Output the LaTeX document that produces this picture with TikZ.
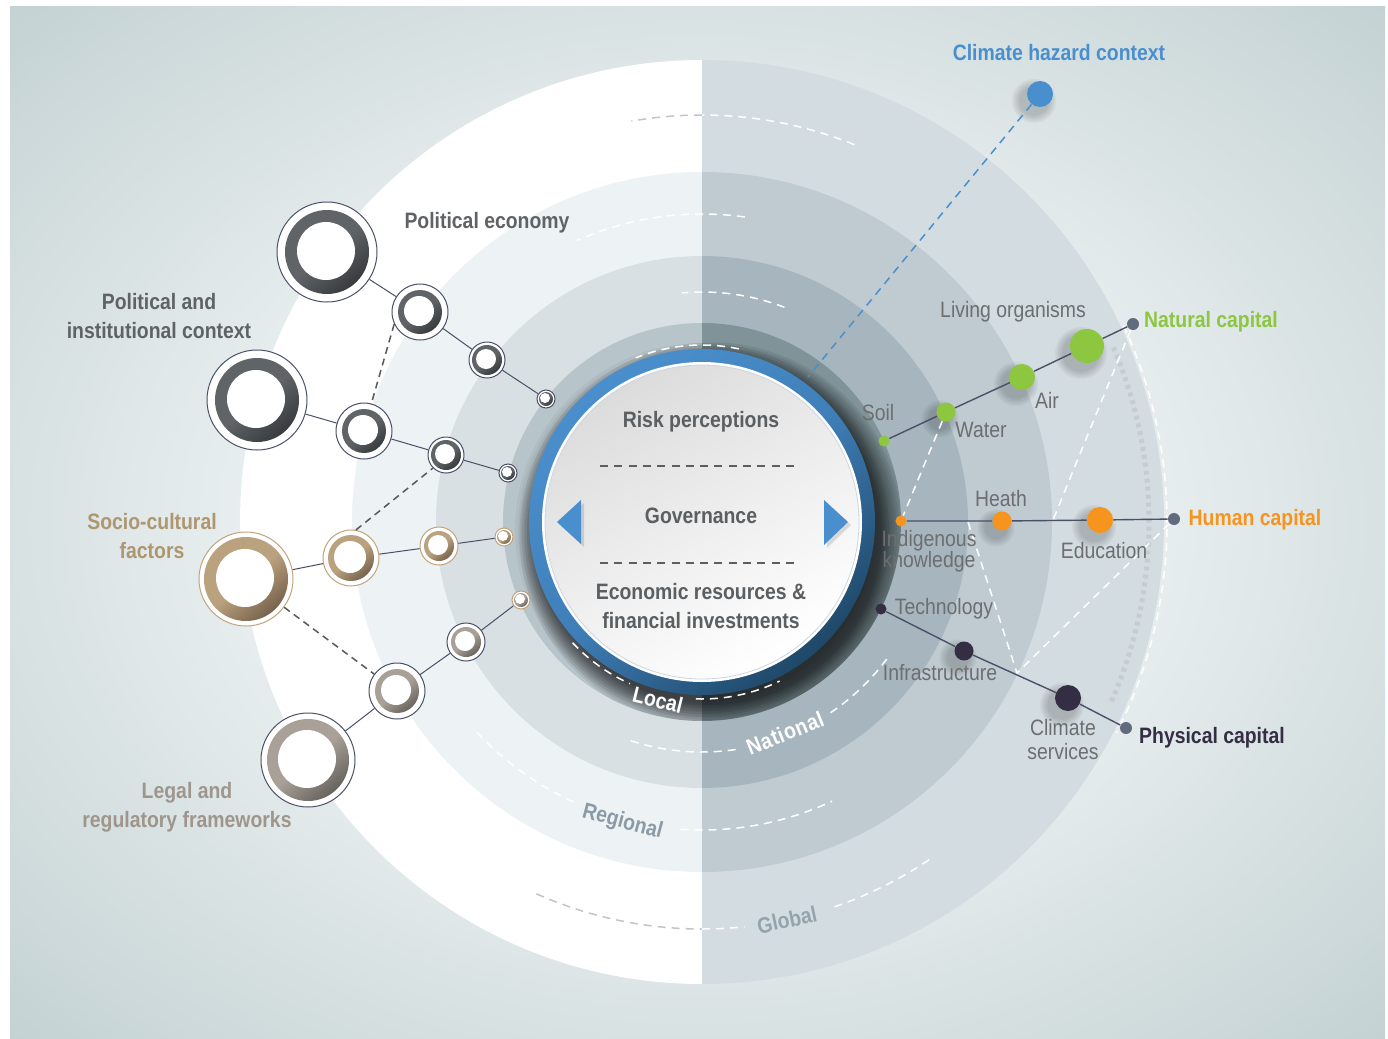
\documentclass[tikz,border=0pt]{standalone}
\usepackage{fontspec}
\setmainfont{Liberation Sans}[FakeStretch=0.87]
\usetikzlibrary{calc}
\definecolor{bgin}{HTML}{F6F9F9}
\definecolor{bgout}{HTML}{C3D1D3}
\definecolor{Lone}{HTML}{B7C4CA}
\definecolor{Ltwo}{HTML}{D8E0E4}
\definecolor{Lthree}{HTML}{EDF2F5}
\definecolor{Rone}{HTML}{7F9399}
\definecolor{Rtwo}{HTML}{A7B6BE}
\definecolor{Rthree}{HTML}{BFCBD1}
\definecolor{Rfour}{HTML}{D3DCE1}
\definecolor{blueA}{HTML}{4A8FCD}
\definecolor{blueB}{HTML}{3F7FB9}
\definecolor{blueC}{HTML}{1F4868}
\definecolor{discT}{HTML}{DCDCDC}
\definecolor{discO}{HTML}{C9D6E3}
\definecolor{txtc}{HTML}{5B5F62}
\definecolor{lblgray}{HTML}{6D6E70}
\definecolor{slate}{HTML}{4A5068}
\definecolor{endgray}{HTML}{626A7D}
\definecolor{natgreen}{HTML}{8DC63F}
\definecolor{humorange}{HTML}{F7941D}
\definecolor{physdark}{HTML}{352D44}
\definecolor{tantext}{HTML}{AD9670}
\definecolor{legaltext}{HTML}{9E968C}
\definecolor{polgray}{HTML}{606366}
\definecolor{grA}{HTML}{606466}
\definecolor{grD}{HTML}{383B3D}
\definecolor{tnA}{HTML}{BBA27F}
\definecolor{tnD}{HTML}{76624C}
\definecolor{tnO}{HTML}{C4A27A}
\definecolor{lgA}{HTML}{A9A197}
\definecolor{lgD}{HTML}{66625D}
\definecolor{regc}{HTML}{8A9BA6}
\definecolor{globc}{HTML}{94A4AD}
\definecolor{gdashc}{HTML}{BFC5C9}
\definecolor{dashdark}{HTML}{55595C}
\pgfdeclareradialshading{bgshade}{\pgfpoint{0bp}{0bp}}{color(0bp)=(bgin); color(9bp)=(bgin); color(36bp)=(bgout); color(50bp)=(bgout)}
\newcommand{\darc}[4]{\draw[#4] ($(C)+(#2:#1)$) arc[start angle=#2, end angle=#3, radius=#1];}
\newcommand{\bubble}[9]{%
  \node[circle, inner sep=0pt, minimum size=#4 pt, draw=#9, line width=0.5pt, fill=white] (#1) at (#2,#3) {};
  \shade[top color=#7, bottom color=#8, middle color=#7, shading angle=40] (#1.center) circle[radius=#5];
  \fill[white] ($(#1.center)+(-1,1)$) circle[radius=#6];
}
\newcommand{\softsh}[3]{\foreach \k in {1,...,5}{\fill[black,opacity=0.04] (#1-6,#2-7) circle[radius=#3+\k*1.8];}}
\begin{document}
\begin{tikzpicture}[x=0.5pt,y=0.5pt,
  base/.style={inner sep=0pt, font=\fontsize{11.15}{14.5}\selectfont},
  one/.style={text height=8pt, text depth=0pt},
  lbl/.style={base, one, text=lblgray},
  bl/.style={inner sep=0pt, font=\fontsize{11.15}{14.5}\selectfont\bfseries},
  ctxt/.style={bl, text=txtc},
  scl/.style={bl, one},
  wdash/.style={draw=white, line width=0.75pt, dash pattern=on 4pt off 3pt},
  gdash/.style={draw=gdashc, line width=0.75pt, dash pattern=on 4pt off 3pt},
  cdash/.style={draw=txtc, line width=0.7pt, dash pattern=on 4pt off 3.15pt},
  ddash/.style={draw=dashdark, line width=0.75pt, dash pattern=on 3.5pt off 2.5pt},
  bdash/.style={draw=blueA, line width=0.75pt, dash pattern=on 4pt off 3pt},
  conn/.style={draw=slate, line width=0.5pt},
  cline/.style={draw=slate, line width=0.7pt},
  cdot/.style={circle, inner sep=0pt, minimum size=#1},
]
\fill[white] (0,0) rectangle (1388,-1039);
\shade[shading=bgshade] (10,-6) rectangle (1385,-1038);
\useasboundingbox (0,0) rectangle (1388,-1039);
\coordinate (C) at (702,-522);
% rings, left half
\begin{scope}
  \clip (0,0) rectangle (702,-1039);
  \fill[white] (C) circle[radius=462];
  \fill[Lthree] (C) circle[radius=350];
  \fill[Ltwo] (C) circle[radius=266];
  \fill[Lone] (C) circle[radius=199];
\end{scope}
% rings, right half
\begin{scope}
  \clip (702,0) rectangle (1388,-1039);
  \fill[Rfour] (C) circle[radius=462];
  \fill[Rthree] (C) circle[radius=350];
  \fill[Rtwo] (C) circle[radius=266];
  \fill[Rone] (C) circle[radius=199];
\end{scope}
% shadow of the central disc
\begin{scope}
  \clip (C) circle[radius=199];
  \foreach \k in {0,...,9} {\fill[black,opacity=0.075] ($(C)+(10,-13)$) circle[radius=170+\k*2.5];}
  \foreach \k in {0,...,5} {\fill[black,opacity=0.04] ($(C)+(0,-8)$) circle[radius=172+\k*3];}
\end{scope}
% scale arcs
\darc{177}{-137}{-114}{wdash}
\darc{177}{-92}{-64}{wdash}
\darc{230}{-108}{-81}{wdash}
\darc{230}{-56}{-36}{wdash}
\darc{230}{69}{95}{wdash}
\darc{308}{-137}{-114}{wdash}
\darc{308}{-94}{-65}{wdash}
\darc{308}{82}{114}{wdash}
\darc{407}{-114}{-90}{gdash}
\darc{407}{-90}{-84}{wdash}
\darc{407}{-71}{-56}{wdash}
\darc{407}{90}{100}{gdash}
\darc{407}{68}{90}{wdash}
% blue ring and disc
\shade[top color=blueA, bottom color=blueC, middle color=blueB, shading angle=40] (C) circle[radius=173];
\darc{177}{78}{112}{wdash}
\fill[white] (C) circle[radius=160];
\shade[top color=discT, bottom color=white, shading angle=30] (C) circle[radius=157];
\draw[discO, line width=0.4pt] (C) circle[radius=157];
% scale labels
\node[scl, text=white, rotate=-14] (local) at (658,-700) {Local};
\node[scl, text=white, rotate=22, font=\fontsize{11.15}{14.5}\selectfont\bfseries\addfontfeatures{LetterSpace=3}] (national) at (785,-733) {National};
\node[scl, text=regc, rotate=-15] (regional) at (623,-820) {Regional};
\node[scl, text=globc, rotate=12] (global) at (787,-920) {Global};
% centre texts
\node[ctxt, one] (risk) at (701,-419) {Risk perceptions};
\draw[cdash] (600,-466) -- (800,-466);
\node[ctxt, one] (gov) at (701,-515) {Governance};
\draw[cdash] (600,-563) -- (800,-563);
\node[ctxt, align=center] (econ) at (701,-606) {Economic resources \&\\financial investments};
\fill[black, opacity=0.12] (560,-525) -- (584,-503) -- (584,-547) -- cycle;
\fill[blueA] (557,-522) -- (581,-500) -- (581,-544) -- cycle;
\fill[black, opacity=0.12] (851,-525) -- (827,-503) -- (827,-548) -- cycle;
\fill[blueA] (848,-522) -- (824,-500) -- (824,-545) -- cycle;
% left bubbles
\bubble{a1}{327}{-252}{50}{42}{29}{grA}{grD}{slate}
\bubble{a2}{420}{-312}{28}{22}{15}{grA}{grD}{slate}
\bubble{a3}{487}{-360}{18}{15}{10}{grA}{grD}{slate}
\bubble{a4}{546}{-399}{9}{7}{5}{grA}{grD}{slate}
\bubble{b1}{257}{-400}{50}{42}{29}{grA}{grD}{slate}
\bubble{b2}{364}{-431}{28}{22}{15}{grA}{grD}{slate}
\bubble{b3}{446}{-455}{18}{15}{10}{grA}{grD}{slate}
\bubble{b4}{508}{-473}{9}{7}{5}{grA}{grD}{slate}
\bubble{t1}{246}{-579}{47}{42}{29}{tnA}{tnD}{tnO}
\bubble{t2}{351}{-558}{28}{23}{16}{tnA}{tnD}{tnO}
\bubble{t3}{439}{-546}{19}{15}{10}{tnA}{tnD}{tnO}
\bubble{t4}{504}{-537}{9}{7}{5}{tnA}{tnD}{tnO}
\bubble{l1}{308}{-760}{47}{41}{29}{lgA}{lgD}{slate}
\bubble{l2}{397}{-691}{28}{22}{15}{lgA}{lgD}{slate}
\bubble{l3}{466}{-642}{19}{15}{10}{lgA}{lgD}{slate}
\bubble{l4}{521}{-600}{9}{7}{5}{lgA}{lgD}{tnO}
\draw[conn] (a1) -- (a2) -- (a3) -- (a4);
\draw[conn] (b1) -- (b2) -- (b3) -- (b4);
\draw[conn] (t1) -- (t2) -- (t3) -- (t4);
\draw[conn] (l1) -- (l2) -- (l3) -- (l4);
\draw[ddash] (a2.205) -- (b2.75);
\draw[ddash] (t2.80) -- (b3.225);
\draw[ddash] (t1) -- (l2);
% left labels
\node[bl, one, text=polgray] (pe) at (487,-220) {Political economy};
\node[bl, text=polgray, align=center] (pic) at (159,-316) {Political and\\institutional context};
\node[bl, text=tantext, align=center] (scf) at (152,-536) {Socio-cultural\\factors};
\node[bl, text=legaltext, align=center] (lrf) at (187,-807) {Legal and\\regulatory frameworks};
% right side: hazard
\softsh{1040}{-94}{13}
\node[cdot=13pt, fill=blueA] (haz) at (1040,-94) {};
\coordinate (hazend) at (808,-377);
\draw[bdash] (haz) -- (hazend);
\node[bl, one, text=blueA] (hazl) at (1059,-52) {Climate hazard context};
% white dashed links
\darc{447}{23}{-24}{draw=black!60, opacity=0.12, line width=2.5pt, dash pattern=on 2pt off 2pt}
\darc{465}{25}{-27}{wdash}
\coordinate (x1) at (968,-522);
\coordinate (x2) at (1017,-673);
\coordinate (x3) at (1053,-520);
% natural capital
\softsh{1087}{-346}{17}
\softsh{1022}{-377}{13}
\softsh{946}{-412}{9.5}
\node[cdot=6pt, fill=endgray] (natend) at (1133,-324) {};
\node[cdot=17pt, fill=natgreen] (living) at (1087,-346) {};
\node[cdot=13pt, fill=natgreen] (air) at (1022,-377) {};
\node[cdot=9.5pt, fill=natgreen] (water) at (946,-412) {};
\node[cdot=5.5pt, fill=natgreen] (soil) at (884,-441) {};
% human capital
\softsh{1100}{-520}{13}
\softsh{1002}{-521}{9.5}
\node[cdot=6pt, fill=endgray] (humend) at (1174,-519) {};
\node[cdot=13pt, fill=humorange] (edu) at (1100,-520) {};
\node[cdot=9.5pt, fill=humorange] (heath) at (1002,-521) {};
\node[cdot=5.5pt, fill=humorange] (indig) at (901,-521) {};
% physical capital
\softsh{1068}{-698}{13}
\softsh{964}{-651}{9.5}
\node[cdot=6pt, fill=endgray] (physend) at (1126,-728) {};
\node[cdot=13pt, fill=physdark] (clim) at (1068,-698) {};
\node[cdot=9.5pt, fill=physdark] (infra) at (964,-651) {};
\node[cdot=5.5pt, fill=physdark] (tech) at (881,-609) {};
\draw[wdash] (water) -- (indig);
\draw[wdash] (x1) -- (x2) -- (humend);
\draw[wdash] (natend) -- (x3);
\draw[cline] (natend) -- (living) -- (air) -- (water) -- (soil);
\draw[cline] (humend) -- (edu) -- (heath) -- (indig);
\draw[cline] (physend) -- (clim) -- (infra) -- (tech);
% right labels
\node[lbl] (soill) at (878,-412) {Soil};
\node[lbl] (waterl) at (981,-429) {Water};
\node[lbl] (airl) at (1047,-400) {Air};
\node[lbl] (livingl) at (1013,-309) {Living organisms};
\node[bl, one, text=natgreen] (natl) at (1211,-319) {Natural capital};
\node[lbl] (heathl) at (1001,-498) {Heath};
\node[base, text=lblgray, align=center, font=\fontsize{11.15}{10.5}\selectfont] (indigl) at (929,-551) {Indigenous\\knowledge};
\node[lbl] (edul) at (1104,-550) {Education};
\node[bl, one, text=humorange] (huml) at (1255,-517) {Human capital};
\node[lbl] (techl) at (944,-606) {Technology};
\node[lbl] (infral) at (940,-672) {Infrastructure};
\node[base, text=lblgray, align=center, font=\fontsize{11.15}{12}\selectfont] (climl) at (1063,-740) {Climate\\services};
\node[bl, one, text=physdark] (physl) at (1212,-735) {Physical capital};
\end{tikzpicture}
\end{document}
